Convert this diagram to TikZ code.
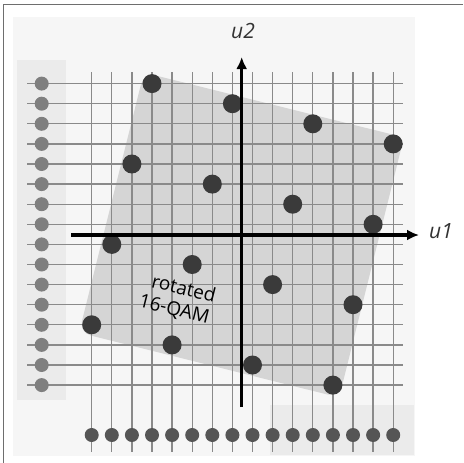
\documentclass[tikz,border=0pt]{standalone}
\usepackage{fontspec}
\setmainfont{Open Sans}
\usepackage{xcolor}
\definecolor{frameGray}{HTML}{6E6E6E}
\definecolor{bgFaint}{HTML}{F6F6F6}
\definecolor{bgStrip}{HTML}{EBEBEB}
\definecolor{planeGray}{HTML}{D5D5D5}
\definecolor{gridGray}{HTML}{8A8A8A}
\definecolor{pinLight}{HTML}{7F7F7F}
\definecolor{pinDark}{HTML}{555555}
\definecolor{symbolDark}{HTML}{3A3A3A}
\usetikzlibrary{arrows.meta}

\begin{document}
\begin{tikzpicture}[
    x=1pt, y=-1pt,
    gridline/.style={draw=gridGray, line width=1.3pt},
    pin/.style     ={circle, inner sep=0pt, minimum size=14pt},
    leftpin/.style ={pin, fill=pinLight},
    basepin/.style ={pin, fill=pinDark},
    symbol/.style  ={circle, inner sep=0pt, minimum size=19pt, fill=symbolDark},
    axis/.style    ={line width=3.2pt, -{Latex[length=12pt, width=11pt]}},
    axislabel/.style={font=\fontsize{21}{21}\selectfont\itshape, text=black!80},
    planetext/.style={rotate=-14, inner sep=0pt, text=black,
                      font=\fontsize{19}{19}\selectfont}
]
\useasboundingbox (0,0) rectangle (463,463);

% background patches
\fill[white] (0,0) rectangle (463,463);
\fill[bgFaint] (13,17) rectangle (415,456);
\fill[bgStrip] (17,60) rectangle (66,400);
\fill[bgStrip] (270,405) rectangle (414,455);
\draw[frameGray, line width=1pt] (3,463) -- (3,4) -- (463,4);

% rotated square
\node[rotate=-14, minimum size=268pt, rounded corners=12pt,
      fill=planeGray, inner sep=0pt] (plane) at (241.5,235) {};

% grid with its pins
\foreach \i in {0,...,15}{
  \coordinate (vt\i) at ({91.7+20.1*\i},72);
  \coordinate (vb\i) at ({91.7+20.1*\i},452);
  \draw[gridline] (vt\i) -- (vb\i);
  \coordinate (hl\i) at (27,{83.6+20.1*\i});
  \coordinate (hr\i) at (403,{83.6+20.1*\i});
  \draw[gridline] (hl\i) -- (hr\i);
}
\foreach \i in {0,...,15}{
  \node[basepin] (bpin\i) at ({91.7+20.1*\i},435) {};
  \node[leftpin] (lpin\i) at (41.7,{83.6+20.1*\i}) {};
}

% 16 symbols
\foreach \r in {0,...,3}{
  \foreach \c in {0,...,3}{
    \pgfmathtruncatemacro\ii{3-\r+4*\c}
    \pgfmathtruncatemacro\jj{\c+4*\r}
    \node[symbol] (s\r\c) at ({91.7+20.1*\ii},{83.6+20.1*\jj}) {};
  }
}

% axes
\coordinate (xstart) at (71,235);
\coordinate (xend)   at (419,235);
\coordinate (ystart) at (241.7,407);
\coordinate (yend)   at (241.7,57);
\draw[axis] (xstart) -- (xend);
\draw[axis] (ystart) -- (yend);
\node[axislabel] (u1) at (441,231) {u1};
\node[axislabel] (u2) at (243,31) {u2};

\node[planetext] (rottext) at (184,288) {rotated};
\node[planetext] (qamtext) at (174,310) {16-QAM};
\end{tikzpicture}
\end{document}
